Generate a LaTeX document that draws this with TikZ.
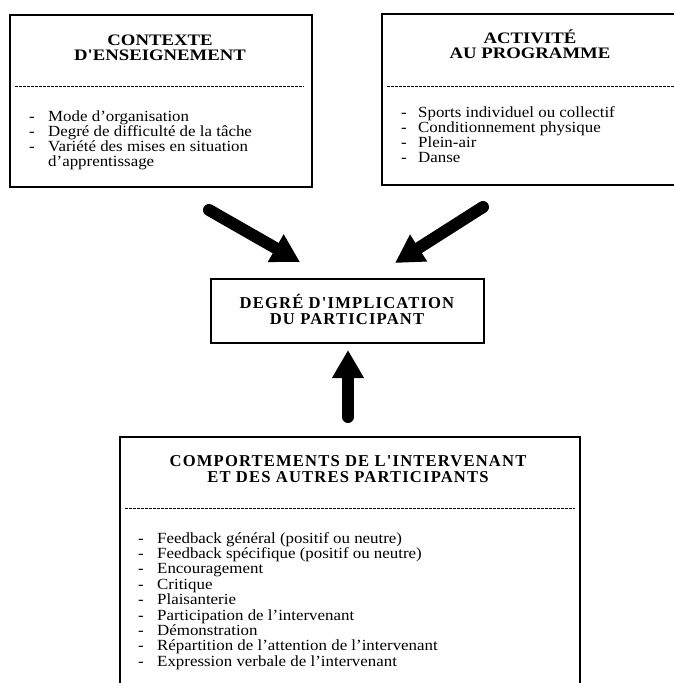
\documentclass[tikz,border=0pt]{standalone}
\usepackage{fontspec}
\setmainfont{Liberation Serif}[FakeStretch=1.09]
\newfontfamily\capsfont{Liberation Serif}[FakeStretch=1.17]
\newfontfamily\spacedfont{Liberation Serif}[LetterSpace=7]
\usetikzlibrary{arrows.meta}

\begin{document}
\begin{tikzpicture}[x=1pt,y=-1pt,
  box/.style={draw,line width=1.4pt,inner sep=0pt},
  sep/.style={line width=0.6pt,dash pattern=on 2.5pt off 1.5pt},
  item/.style={inner sep=0pt,anchor=base west,font=\fontsize{15.5}{15.3}\selectfont},
  head/.style={inner sep=0pt,align=center,font=\capsfont\bfseries\fontsize{16}{15}\selectfont},
  spaced/.style={inner sep=0pt,align=center,font=\spacedfont\bfseries\fontsize{16.6}{15.5}\selectfont},
  fat/.style={line width=12pt,line cap=round,-{Triangle[length=28pt,width=30pt]}}]
 \clip (0,0) rectangle (674,683);   %fixes the page size.

 % Define the four boxes.
 \node[box,minimum width=302pt,minimum height=172pt] (ctx) at (161,101) {};
 \node[box,minimum width=308pt,minimum height=171pt] (act) at (536,99.5) {};
 \node[box,minimum width=273pt,minimum height=64pt] (deg) at (347.5,311) {};
 \node[box,minimum width=460pt,minimum height=263pt] (comp) at (350,568.5) {};

 % CONTEXTE
 \node[head] (ctx-title) at (160,47.5) {CONTEXTE\\D'ENSEIGNEMENT};
 \draw[sep] (15,86) -- (304,86);
 \foreach \t [count=\i] in {Mode d'organisation,Degré de difficulté de la tâche,Variété des mises en situation}{
   \node[item] (ctx-d\i) at (29,{121+15.3*(\i-1)}) {-};
   \node[item] (ctx-\i) at (48,{121+15.3*(\i-1)}) {\t};}
 \node[item] (ctx-4) at (48,{121+15.3*3}) {d'apprentissage};

 % ACTIVITE
 \node[head] (act-title) at (530,44.5) {ACTIVITÉ\\AU PROGRAMME};
 \draw[sep] (387,86) -- (674,86);
 \foreach \t [count=\i] in {Sports individuel ou collectif,Conditionnement physique,Plein-air,Danse}{
   \node[item] (act-d\i) at (401,{117+15.3*(\i-1)}) {-};
   \node[item] (act-\i) at (418,{117+15.3*(\i-1)}) {\t};}

 % DEGRE
 \node[spaced] (deg-title) at (347,309.5) {DEGRÉ D'IMPLICATION\\DU PARTICIPANT};

 % COMPORTEMENTS
 \node[spaced,font=\spacedfont\bfseries\fontsize{16.6}{16}\selectfont] (comp-title) at (348,469) {COMPORTEMENTS DE L'INTERVENANT\\ET DES AUTRES PARTICIPANTS};
 \draw[sep] (125,508) -- (575,508);
 \foreach \t [count=\i] in {Feedback général (positif ou neutre),Feedback spécifique (positif ou neutre),Encouragement,Critique,Plaisanterie,Participation de l'intervenant,Démonstration,Répartition de l'attention de l'intervenant,Expression verbale de l'intervenant}{
   \node[item] (comp-d\i) at (138,{543+15.4*(\i-1)}) {-};
   \node[item] (comp-\i) at (157,{543+15.4*(\i-1)}) {\t};}

 % Arrows into DEGRE
 \coordinate (ctx-out) at (209,210);
 \coordinate (deg-in1) at (300,262);
 \coordinate (act-out) at (483,207);
 \coordinate (deg-in2) at (395,263);
 \coordinate (comp-out) at (348,417);
 \coordinate (deg-in3) at (348,350);
 \draw[fat] (ctx-out) -- (deg-in1);
 \draw[fat] (act-out) -- (deg-in2);
 \draw[fat] (comp-out) -- (deg-in3);
\end{tikzpicture}
\end{document}
